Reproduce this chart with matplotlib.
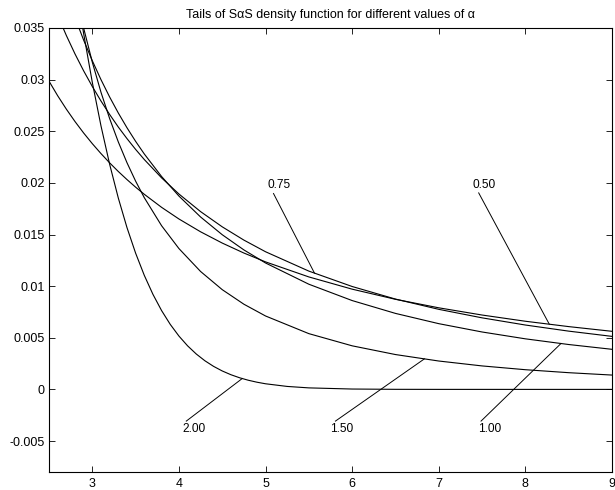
import numpy as np
import matplotlib
matplotlib.use("Agg")
import matplotlib.pyplot as plt

plt.rcParams['font.family'] = ['Liberation Sans', 'DejaVu Sans']
plt.rcParams['axes.unicode_minus'] = False

# ---- data ----
x_a050 = [2.5, 2.6, 2.7, 2.8, 2.9, 3.0, 3.1, 3.2, 3.3, 3.4, 3.5, 3.6, 3.8, 4.0,
          4.25, 4.5, 4.75, 5.0, 5.5, 6.0, 6.5, 7.0, 7.5, 8.0, 8.5, 9.0]
y_a050 = [0.029853, 0.028442, 0.027145, 0.025943, 0.024831, 0.023799, 0.022839,
          0.021942, 0.021104, 0.020323, 0.019585, 0.018896, 0.017631, 0.016505,
          0.015263, 0.014172, 0.013206, 0.012349, 0.010892, 0.009707, 0.008725,
          0.007901, 0.007202, 0.006600, 0.006081, 0.005625]

x_a075 = [2.5, 2.6, 2.7, 2.8, 2.9, 3.0, 3.1, 3.2, 3.3, 3.4, 3.5, 3.6, 3.8, 4.0,
          4.25, 4.5, 4.75, 5.0, 5.5, 6.0, 6.5, 7.0, 7.5, 8.0, 8.5, 9.0]
y_a075 = [0.038350, 0.036226, 0.034280, 0.032492, 0.030850, 0.029335, 0.027930,
          0.026628, 0.025410, 0.024292, 0.023243, 0.022264, 0.020486, 0.018924,
          0.017218, 0.015744, 0.014459, 0.013331, 0.011456, 0.009965, 0.008747,
          0.007754, 0.006929, 0.006234, 0.005642, 0.005135]

x_a100 = [2.5, 2.6, 2.7, 2.8, 2.9, 3.0, 3.1, 3.2, 3.3, 3.4, 3.5, 3.6, 3.8, 4.0,
          4.25, 4.5, 4.75, 5.0, 5.5, 6.0, 6.5, 7.0, 7.5, 8.0, 8.5, 9.0]
y_a100 = [0.043905, 0.041019, 0.038397, 0.036008, 0.033827, 0.031831, 0.030001,
          0.028319, 0.026771, 0.025343, 0.024023, 0.022802, 0.020616, 0.018724,
          0.016698, 0.014980, 0.013509, 0.012243, 0.010186, 0.008603, 0.007360,
          0.006366, 0.005560, 0.004897, 0.004346, 0.003882]

x_a150 = [2.8, 2.9, 3.0, 3.1, 3.2, 3.3, 3.4, 3.5, 3.6, 3.8, 4.0, 4.25, 4.5, 4.75,
          5.0, 5.5, 6.0, 6.5, 7.0, 7.5, 8.0, 8.5, 9.0]
y_a150 = [0.03879, 0.03499, 0.03169, 0.02878, 0.02623, 0.02397, 0.02196, 0.02017,
          0.01857, 0.01585, 0.01364, 0.01142, 0.00966, 0.00825, 0.00711, 0.00540,
          0.00422, 0.003375, 0.002748, 0.002273, 0.001907, 0.001618, 0.001388]

x_a200 = [2.8, 2.85, 2.9, 3.0, 3.1, 3.2, 3.3, 3.4, 3.5, 3.6, 3.7, 3.8, 3.9, 4.0,
          4.1, 4.2, 4.3, 4.4, 4.5, 4.6, 4.7, 4.8, 4.9, 5.0, 5.25, 5.5, 6.0, 6.5,
          7.0, 8.0, 9.0]
y_a200 = [0.039735, 0.037027, 0.034458, 0.029733, 0.025527, 0.021807, 0.018537,
          0.015678, 0.013194, 0.011048, 0.009205, 0.007631, 0.006295, 0.0051667,
          0.0042193, 0.0034288, 0.0027725, 0.0022306, 0.0017856, 0.0014223,
          0.0011272, 0.0008889, 0.0006975, 0.00054458, 0.000287, 0.0001466,
          0.0000348, 0.0000073, 0.0000014, 0.0, 0.0]

alpha_labels = ['0.50', '0.75', '1.00', '1.50', '2.00']

x_ticks = [3, 4, 5, 6, 7, 8, 9]
y_ticks = [-0.005, 0, 0.005, 0.01, 0.015, 0.02, 0.025, 0.03, 0.035]
y_tick_labels = ['-0.005', '0', '0.005', '0.01', '0.015', '0.02', '0.025',
                 '0.03', '0.035']

title = 'Tails of S\u03b1S density function for different values of \u03b1'

# ---- drawing ----
fig = plt.figure(figsize=(6.15, 4.9), dpi=100)
ax = fig.add_axes([49 / 615, 1 - 472 / 490, (612 - 49) / 615, (472 - 28) / 490])

curves = [(x_a050, y_a050), (x_a075, y_a075), (x_a100, y_a100),
          (x_a150, y_a150), (x_a200, y_a200)]
for xs, ys in curves:
    ax.plot(xs, ys, color='black', linewidth=0.8)

ax.set_xlim(2.5, 9)
ax.set_ylim(-0.008, 0.035)
ax.set_xticks(x_ticks)
ax.set_xticklabels([str(v) for v in x_ticks])
ax.set_yticks(y_ticks)
ax.set_yticklabels(y_tick_labels)
ax.tick_params(direction='in', length=4, width=0.6, labelsize=9,
               top=True, right=True, pad=3)
ax.tick_params(axis='x', pad=4)
for sp in ax.spines.values():
    sp.set_linewidth(0.8)

ax.set_title(title, fontsize=9, pad=7)

# leader-line annotations: (label index, text pos, line start, x on curve)
annots = [
    (1, (5.161, 0.01984), (5.092, 0.01897), 5.565),
    (0, (7.526, 0.01984), (7.461, 0.01903), 8.276),
    (4, (4.177, -0.00387), (4.085, -0.00307), 4.731),
    (3, (5.877, -0.00387), (5.807, -0.00307), 6.834),
    (2, (7.584, -0.00387), (7.488, -0.00307), 8.411),
]
for idx, tpos, lstart, xc in annots:
    xs, ys = curves[idx]
    yc = np.interp(xc, xs, ys)
    ax.plot([lstart[0], xc], [lstart[1], yc], color='black', linewidth=0.7)
    ax.text(tpos[0], tpos[1], alpha_labels[idx], fontsize=8.6,
            ha='center', va='center')

fig.savefig('out.png', dpi=100, facecolor='white')
